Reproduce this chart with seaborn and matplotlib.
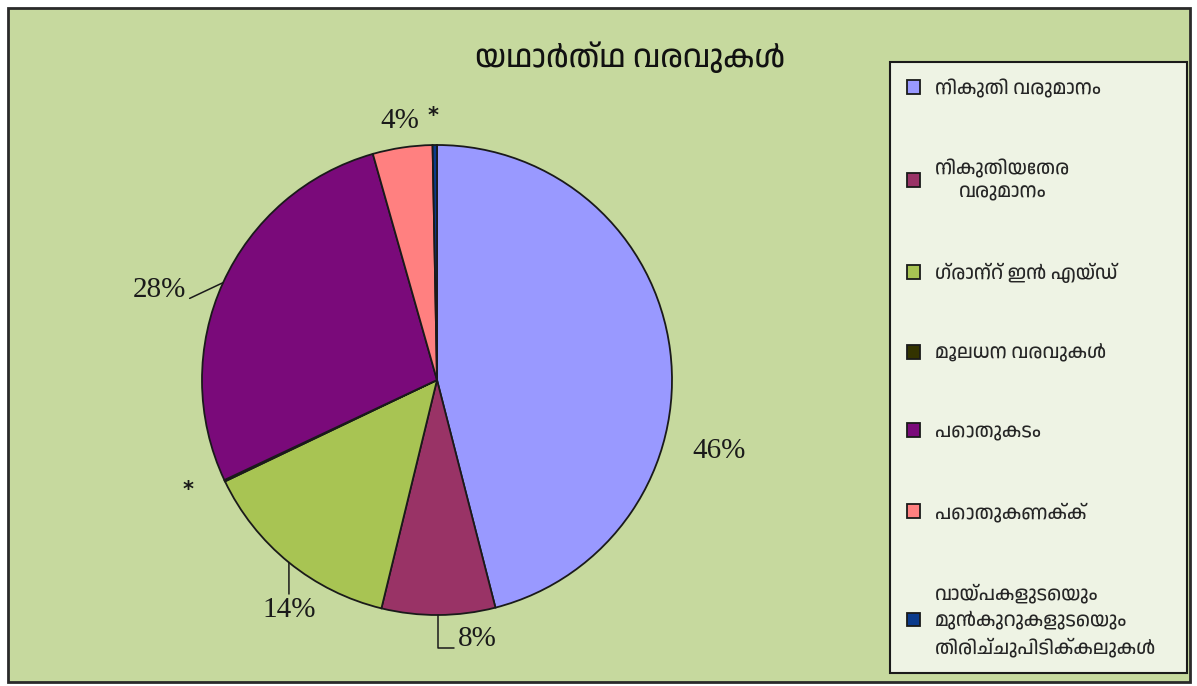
import matplotlib
matplotlib.use('Agg')
import matplotlib.pyplot as plt
import seaborn as sns
import numpy as np
from matplotlib import font_manager
from matplotlib.patches import Rectangle

# Dados do gráfico
categorias = [
    'നികുതി വരുമാനം',
    'നികുതിയേതര\nവരുമാനം',
    'ഗ്രാന്റ് ഇൻ എയ്ഡ്',
    'മൂലധന വരവുകൾ',
    'പൊതുകടം',
    'പൊതുകണക്ക്',
    'വായ്പകളുടെയും\nമുൻകുറുകളുടെയും\nതിരിച്ചുപിടിക്കലുകൾ',
]
valores = [46.0, 7.8, 14.1, 0.1, 27.6, 4.1, 0.3]
rotulos = ['46%', '8%', '14%', '*', '28%', '4%', '*']
titulo = 'യഥാർത്ഥ വരവുകൾ'

cores = ['#9999FF', '#993366', '#A8C453', '#333300', '#7A0A7A', '#FF8080', '#0A3A8C']

# Posições dos rótulos (unidades do raio)
pos_rotulos = [(1.20, -0.30), (0.17, -1.10), (-0.63, -0.98), (-1.06, -0.47),
               (-1.18, 0.385), (-0.16, 1.10), (-0.017, 1.125)]
com_linha = [False, True, True, False, True, False, False]

sns.set_style('white')

# Procurar uma fonte com malaiala, se existir
nomes = sorted({f.name for f in font_manager.fontManager.ttflist})
mal = [n for n in nomes if 'Malayalam' in n]
plt.rcParams['font.family'] = mal + ['DejaVu Sans']

fig = plt.figure(figsize=(11.97, 6.86), dpi=100)
fig.patch.set_facecolor('white')
W, H = 1197, 686

# Fundo verde com moldura
fig.patches.append(Rectangle((8 / W, 4 / H), 1182 / W, 674 / H, transform=fig.transFigure,
                             facecolor='#C6D99E', edgecolor='#2A2A2A', linewidth=2, zorder=-5))

# Eixo da pizza: centro (437, 380), raio 235 px
R = 235
half = 300
ax = fig.add_axes([(437 - half) / W, (H - 380 - half) / H, 2 * half / W, 2 * half / H])
ax.set_zorder(2)
ax.patch.set_alpha(0)

wedges, _ = ax.pie(valores, colors=cores, startangle=90, counterclock=False, radius=1,
                   wedgeprops=dict(edgecolor='#1A1A1A', linewidth=1.3))
# pie() redefine os limites, então ajustar depois
ax.set_xlim(-half / R, half / R)
ax.set_ylim(-half / R, half / R)
ax.set_aspect('equal')
ax.axis('off')

for w, txt, (tx, ty), linha in zip(wedges, rotulos, pos_rotulos, com_linha):
    fs = 15 if txt == '*' else 21
    fam = ['DejaVu Sans'] if txt == '*' else ['Liberation Serif']
    if linha:
        ang = np.deg2rad((w.theta1 + w.theta2) / 2)
        xy = (np.cos(ang), np.sin(ang))
        if txt == '8%':
            estilo = 'angle,angleA=0,angleB=90,rad=0'
            rel = (0.0, 0.15)
        elif txt == '28%':
            estilo = 'arc3'
            rel = (1.0, 0.1)
        else:
            estilo = 'arc3'
            rel = (0.5, 1.0)
        ax.annotate(txt, xy=xy, xytext=(tx, ty), ha='center', va='center',
                    fontsize=fs, family=fam, color='#1A1A1A',
                    arrowprops=dict(arrowstyle='-', color='#1A1A1A', lw=1.1,
                                    connectionstyle=estilo, relpos=rel,
                                    shrinkA=0, shrinkB=0))
    else:
        ax.text(tx, ty, txt, ha='center', va='center', fontsize=fs,
                family=fam, color='#1A1A1A', fontweight='bold' if txt == '*' else 'normal')

fig.text(630 / W, 1 - 57 / H, titulo, ha='center', va='center', fontsize=22.5, color='#111111')

leg = fig.legend(wedges, categorias, loc='upper left',
                 bbox_to_anchor=(890 / W, 11 / H, 297 / W, 613 / H), mode='expand',
                 borderaxespad=0, prop=dict(size=14, weight='bold'), frameon=True,
                 fancybox=False, facecolor='#EEF3E4', edgecolor='#1A1A1A', framealpha=1,
                 handlelength=0.7, handleheight=0.7, handletextpad=0.75,
                 labelspacing=3.15, borderpad=0.85)
leg.get_frame().set_linewidth(1.5)
for i, t in enumerate(leg.get_texts()):
    t.set_multialignment('center' if i == 1 else 'left')
    t.set_linespacing(1.5)

fig.savefig('out.png', dpi=100, facecolor=fig.get_facecolor())
